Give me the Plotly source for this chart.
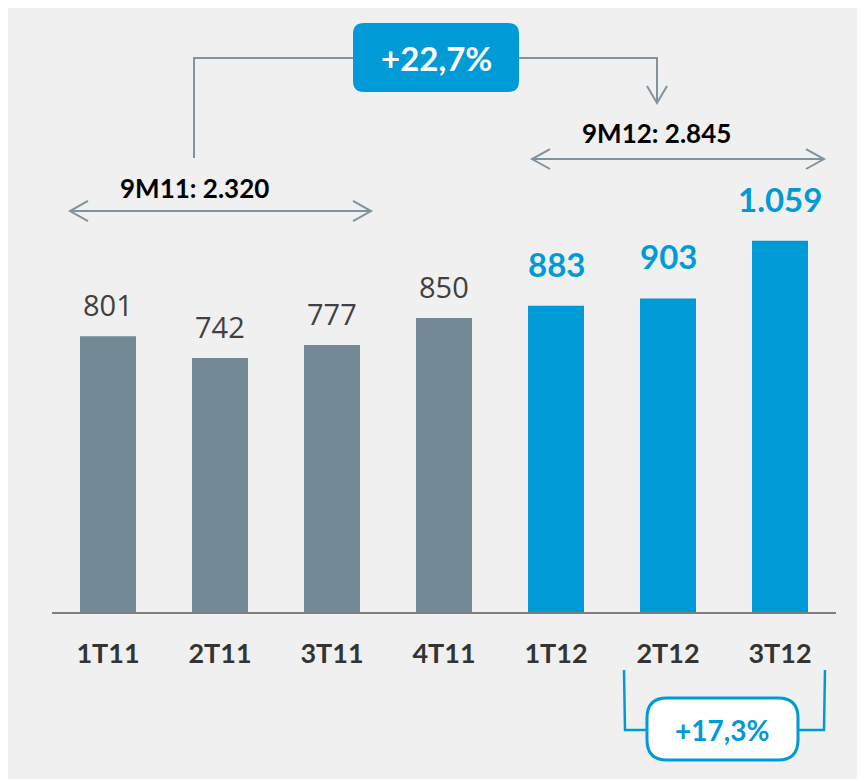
import plotly.graph_objects as go

# quarterly values (thousands)
quarters = ["1T11", "2T11", "3T11", "4T11", "1T12", "2T12", "3T12"]
values = [801, 742, 777, 850, 883, 903, 1059]
is_2012 = [False, False, False, False, True, True, True]

total_9m11 = "9M11: 2.320"
total_9m12 = "9M12: 2.845"
growth_9m = "+22,7%"
growth_q = "+17,3%"

GRAY_BAR = "#738a96"
BLUE = "#009ad6"
LINE = "#7f939f"
BG = "#f0f0f0"

W, H = 865, 779
OFF = 8  # page body margin: screen pixel = figure pixel + OFF
L, R, T, B = 44, 37, 12, 175
PW, PH = W - L - R, H - T - B


# helpers take screen pixel positions and return paper coordinates
def px(x):
    return (x - OFF - L) / PW


def py(y):
    return (H - B - (y - OFF)) / PH


def path(points):
    return "M " + " L ".join("%.5f,%.5f" % (px(x), py(y)) for x, y in points)


def rounded_box(x0, y0, x1, y1, r):
    pts = [
        "M %.5f,%.5f" % (px(x0 + r), py(y0)),
        "L %.5f,%.5f" % (px(x1 - r), py(y0)),
        "Q %.5f,%.5f %.5f,%.5f" % (px(x1), py(y0), px(x1), py(y0 + r)),
        "L %.5f,%.5f" % (px(x1), py(y1 - r)),
        "Q %.5f,%.5f %.5f,%.5f" % (px(x1), py(y1), px(x1 - r), py(y1)),
        "L %.5f,%.5f" % (px(x0 + r), py(y1)),
        "Q %.5f,%.5f %.5f,%.5f" % (px(x0), py(y1), px(x0), py(y1 - r)),
        "L %.5f,%.5f" % (px(x0), py(y0 + r)),
        "Q %.5f,%.5f %.5f,%.5f" % (px(x0), py(y0), px(x0 + r), py(y0)),
        "Z",
    ]
    return " ".join(pts)


def fmt(v):
    return "{:,}".format(v).replace(",", ".")


colors = [BLUE if b else GRAY_BAR for b in is_2012]

fig = go.Figure(
    go.Bar(x=quarters, y=values, marker_color=colors, marker_line_width=0,
           hoverinfo="x+y")
)

line_style = dict(color=LINE, width=2)
shapes = [
    # top bracket
    dict(type="path", xref="paper", yref="paper", line=line_style,
         path=path([(194, 158), (194, 58), (353, 58)])),
    dict(type="path", xref="paper", yref="paper", line=line_style,
         path=path([(519, 58), (657, 58), (657, 103)])),
    dict(type="path", xref="paper", yref="paper", line=line_style,
         path=path([(647, 86), (657, 103), (667, 86)])),
    dict(type="path", xref="paper", yref="paper", line_width=0, fillcolor=BLUE,
         path=rounded_box(353, 23, 519, 92, 11)),
    # 9M11 double arrow
    dict(type="path", xref="paper", yref="paper", line=line_style,
         path=path([(70, 211), (371, 211)])),
    dict(type="path", xref="paper", yref="paper", line=line_style,
         path=path([(88, 201), (70, 211), (88, 221)])),
    dict(type="path", xref="paper", yref="paper", line=line_style,
         path=path([(353, 201), (371, 211), (353, 221)])),
    # 9M12 double arrow
    dict(type="path", xref="paper", yref="paper", line=line_style,
         path=path([(532, 159), (824, 159)])),
    dict(type="path", xref="paper", yref="paper", line=line_style,
         path=path([(550, 149), (532, 159), (550, 169)])),
    dict(type="path", xref="paper", yref="paper", line=line_style,
         path=path([(806, 149), (824, 159), (806, 169)])),
    # bottom bracket
    dict(type="path", xref="paper", yref="paper", line=dict(color=BLUE, width=2.5),
         path=path([(624, 670), (625, 730), (647, 730)])),
    dict(type="path", xref="paper", yref="paper", line=dict(color=BLUE, width=2.5),
         path=path([(825, 670), (824, 730), (798, 730)])),
    dict(type="path", xref="paper", yref="paper", line=dict(color=BLUE, width=3),
         fillcolor="white", path=rounded_box(647, 698, 798, 760, 20)),
]

annotations = []
for q, v, b in zip(quarters, values, is_2012):
    annotations.append(dict(
        x=q, y=v, xref="x", yref="y", text=fmt(v), showarrow=False,
        xanchor="center", yanchor="bottom", yshift=20 if b else 10,
        font=dict(family="Lato" if b else "Open Sans", size=33 if b else 29,
                  color=BLUE if b else "#404040", weight="bold" if b else "normal"),
    ))


def label(x, y, text, size, color):
    return dict(x=px(x), y=py(y), xref="paper", yref="paper", text=text,
                showarrow=False, xanchor="center", yanchor="middle",
                font=dict(family="Lato", size=size, color=color, weight="bold"))


annotations += [
    label(436, 58, growth_9m, 33, "white"),
    label(194, 188, total_9m11, 26, "black"),
    label(656, 133, total_9m12, 26, "black"),
    label(722, 730, growth_q, 28, BLUE),
]

fig.update_layout(
    width=W, height=H,
    margin=dict(l=L, r=R, t=T, b=B),
    paper_bgcolor=BG,
    plot_bgcolor=BG,
    bargap=0.5,
    showlegend=False,
    shapes=shapes,
    annotations=annotations,
    xaxis=dict(showline=True, linecolor="#7f7f7f", linewidth=2, ticks="",
               showgrid=False, ticklabelstandoff=17,
               tickfont=dict(family="Lato", size=27, color="#333333", weight="bold")),
    yaxis=dict(range=[54, 1657], visible=False, showgrid=False, zeroline=False),
)

fig.write_html("out.html")
